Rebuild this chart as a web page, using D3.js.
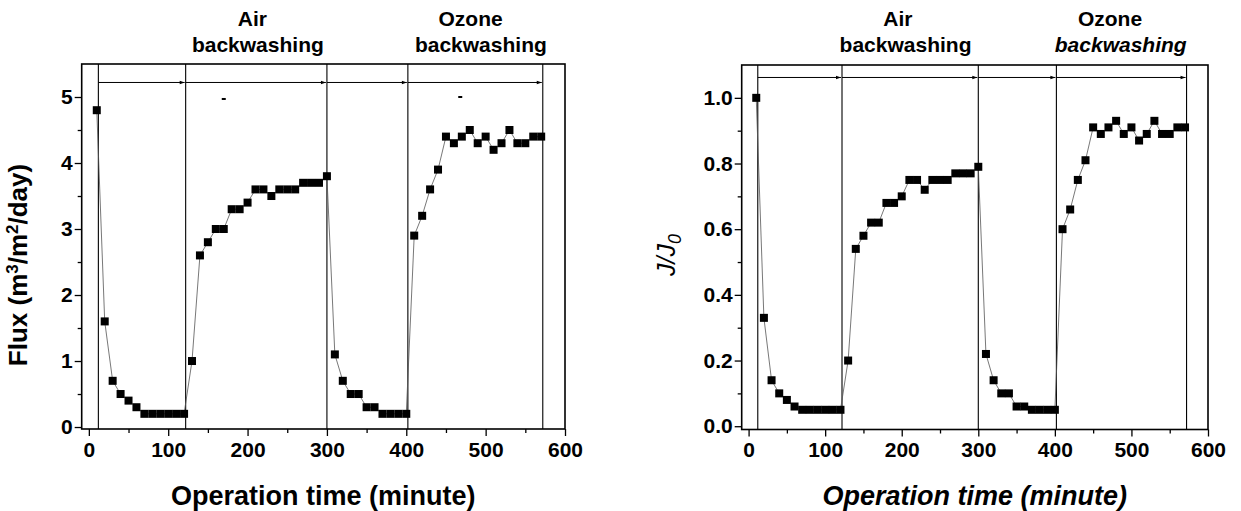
<!DOCTYPE html>
<html><head><meta charset="utf-8">
<script src="https://cdn.jsdelivr.net/npm/d3@7"></script>
<style>
body{margin:0;background:#fff;}
svg text{font-family:"Liberation Sans",Arial,sans-serif;fill:#000;}
</style></head>
<body><svg id="c" width="1241" height="511"></svg>
<script>
// ---- data ----
const time = [10,20,30,40,50,60,70,80,90,100,110,120,130,140,150,160,170,180,190,200,210,220,230,240,250,260,270,280,290,300,310,320,330,340,350,360,370,380,390,400,410,420,430,440,450,460,470,480,490,500,510,520,530,540,550,560,570];
const flux = [4.8,1.6,0.7,0.5,0.4,0.3,0.2,0.2,0.2,0.2,0.2,0.2,1.0,2.6,2.8,3.0,3.0,3.3,3.3,3.4,3.6,3.6,3.5,3.6,3.6,3.6,3.7,3.7,3.7,3.8,1.1,0.7,0.5,0.5,0.3,0.3,0.2,0.2,0.2,0.2,2.9,3.2,3.6,3.9,4.4,4.3,4.4,4.5,4.3,4.4,4.2,4.3,4.5,4.3,4.3,4.4,4.4];
const ratio = [1.0,0.33,0.14,0.10,0.08,0.06,0.05,0.05,0.05,0.05,0.05,0.05,0.20,0.54,0.58,0.62,0.62,0.68,0.68,0.70,0.75,0.75,0.72,0.75,0.75,0.75,0.77,0.77,0.77,0.79,0.22,0.14,0.10,0.10,0.06,0.06,0.05,0.05,0.05,0.05,0.60,0.66,0.75,0.81,0.91,0.89,0.91,0.93,0.89,0.91,0.87,0.89,0.93,0.89,0.89,0.91,0.91];
const phaseBounds = [12,122,300,402,572];
const xTicks = [0,100,200,300,400,500,600];
const xMinor = [50,150,250,350,450,550];
const fluxTicks = [0,1,2,3,4,5];
const fluxMinor = [0.5,1.5,2.5,3.5,4.5];
const ratioTicks = [0,0.2,0.4,0.6,0.8,1.0];
const ratioMinor = [0.1,0.3,0.5,0.7,0.9];
const phaseLabelsTop = ["Air","Ozone"];
const phaseLabelsBottom = ["backwashing","backwashing"];
const strayMarks = [[170,4.97],[468,5.0]];

const svg = d3.select("#c");
svg.append("defs").append("marker")
  .attr("id","arr").attr("viewBox","0 0 10 10").attr("refX",10).attr("refY",5)
  .attr("markerWidth",6).attr("markerHeight",5).attr("orient","auto")
  .append("path").attr("d","M0,1.5L10,5L0,8.5Z").attr("fill","#000");

function panel(o){
  const x = d3.scaleLinear().domain([-9,600]).range([o.left,o.right]);
  const y = d3.scaleLinear().domain(o.ydom).range([o.bottom,o.top]);
  const g = svg.append("g");
  g.append("rect").attr("x",o.left).attr("y",o.top).attr("width",o.right-o.left).attr("height",o.bottom-o.top)
    .attr("fill","none").attr("stroke","#000").attr("stroke-width",1.6);
  g.append("g").attr("transform",`translate(0,${o.bottom})`)
    .call(d3.axisBottom(x).tickValues(xTicks).tickFormat(d3.format("d")).tickSize(7).tickPadding(6));
  g.append("g").attr("transform",`translate(0,${o.bottom})`)
    .call(d3.axisBottom(x).tickValues(xMinor).tickFormat("").tickSize(4));
  g.append("g").attr("transform",`translate(${o.left},0)`)
    .call(d3.axisLeft(y).tickValues(o.yticks).tickFormat(o.yfmt).tickSize(7).tickPadding(2));
  g.append("g").attr("transform",`translate(${o.left},0)`)
    .call(d3.axisLeft(y).tickValues(o.yminor).tickFormat("").tickSize(4));
  g.selectAll(".domain").remove();
  g.selectAll(".tick line").attr("stroke","#000").attr("stroke-width",1.3);
  g.selectAll(".tick text").attr("font-size",21).attr("font-weight","bold").attr("fill","#000")
    .style("font-family","'Liberation Sans',Arial,sans-serif");
  g.selectAll(".vb").data(phaseBounds).enter().append("line")
    .attr("x1",d=>x(d)).attr("x2",d=>x(d)).attr("y1",o.top).attr("y2",o.bottom)
    .attr("stroke","#000").attr("stroke-width",1.1);
  const segs = d3.pairs(phaseBounds);
  g.selectAll(".ar").data(segs).enter().append("line")
    .attr("x1",d=>x(d[0])).attr("x2",d=>x(d[1])-1).attr("y1",y(o.arrowY)).attr("y2",y(o.arrowY))
    .attr("stroke","#000").attr("stroke-width",1).attr("marker-end","url(#arr)");
  const pts = time.map((t,i)=>[t,o.vals[i]]);
  g.append("path").datum(pts).attr("fill","none").attr("stroke","#555").attr("stroke-width",0.8)
    .attr("d",d3.line().x(d=>x(d[0])).y(d=>y(d[1])));
  g.selectAll(".pt").data(pts).enter().append("rect")
    .attr("x",d=>x(d[0])-4).attr("y",d=>y(d[1])-4).attr("width",8).attr("height",8).attr("fill","#000");
  const lblX = o.labelX;
  [0,1].forEach(k=>{
    g.append("text").attr("x",x(lblX[k][0])).attr("y",26).attr("text-anchor","middle")
      .attr("font-size",21).attr("font-weight","bold").text(phaseLabelsTop[k]);
    g.append("text").attr("x",x(lblX[k][1])).attr("y",52).attr("text-anchor","middle")
      .attr("font-size",21).attr("font-weight","bold")
      .attr("font-style",(o.italicOzone && k===1)?"italic":"normal").text(phaseLabelsBottom[k]);
  });
  g.append("text").attr("x",(o.left+o.right)/2).attr("y",505).attr("text-anchor","middle")
    .attr("font-size",27).attr("font-weight","bold").attr("font-style",o.xItalic?"italic":"normal")
    .text("Operation time (minute)");
  return {g,x,y};
}

const L = panel({left:81.7,right:565,top:64,bottom:429,ydom:[-0.03,5.5],yticks:fluxTicks,yminor:fluxMinor,
  yfmt:d3.format("d"),vals:flux,arrowY:5.22,labelX:[[206,213],[481,494]],italicOzone:false,xItalic:false});
L.g.selectAll(".sm").data(strayMarks).enter().append("rect")
  .attr("x",d=>L.x(d[0])-2).attr("y",d=>L.y(d[1])-1).attr("width",4).attr("height",2).attr("fill","#000");
const ly = svg.append("text").attr("transform","translate(27,265) rotate(-90)").attr("text-anchor","middle")
  .attr("font-size",26).attr("font-weight","bold");
ly.append("tspan").text("Flux (m");
ly.append("tspan").attr("dy",-9).attr("font-size",17).text("3");
ly.append("tspan").attr("dy",9).text("/m");
ly.append("tspan").attr("dy",-9).attr("font-size",17).text("2");
ly.append("tspan").attr("dy",9).text("/day)");

const R = panel({left:741.7,right:1208,top:65,bottom:429.5,ydom:[-0.01,1.1],yticks:ratioTicks,yminor:ratioMinor,
  yfmt:d3.format(".1f"),vals:ratio,arrowY:1.062,labelX:[[195,205],[472,486]],italicOzone:true,xItalic:true});
const ry = svg.append("text").attr("transform","translate(675,255) rotate(-90)").attr("text-anchor","middle")
  .attr("font-size",25).attr("font-style","italic");
ry.append("tspan").text("J/J");
ry.append("tspan").attr("dy",6).attr("font-size",18).text("0");
</script></body></html>
